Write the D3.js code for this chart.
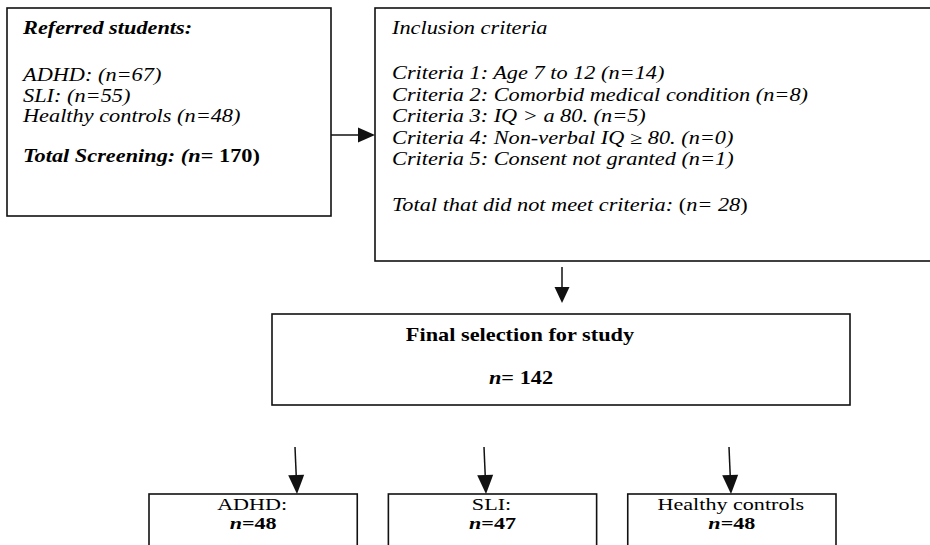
<!DOCTYPE html>
<html>
<head>
<meta charset="utf-8">
<script src="https://cdn.jsdelivr.net/npm/d3@7"></script>
<style>
  html, body { margin: 0; padding: 0; background: #fff; }
  svg { display: block; }
  text { font-family: "Liberation Serif", "Times New Roman", serif; font-size: 18px; fill: #000; }
  text.small { font-size: 16.5px; }
</style>
</head>
<body>
<svg id="chart" width="930" height="545"></svg>
<script>
// ---------------- DATA ----------------
const referredGroups = ["ADHD", "SLI", "Healthy controls"];
const referredCounts = [67, 55, 48];
const referredColon = [true, true, false];
const totalScreening = 170;

const criteriaLabels = [
  "Age 7 to 12",
  "Comorbid medical condition",
  "IQ > a 80.",
  "Non-verbal IQ \u2265 80.",
  "Consent not granted"
];
const criteriaCounts = [14, 8, 5, 0, 1];
const totalExcluded = 28;

const finalTotal = 142;
const finalGroups = ["ADHD:", "SLI:", "Healthy controls"];
const finalCounts = [48, 47, 48];

// ---------------- LAYOUT ----------------
const svg = d3.select("#chart");
const SX = 1.24; // horizontal stretch of the original text
const stroke = "#111";

const lineBox1 = d3.scaleLinear().domain([0, 1]).range([81, 101.5]);
const lineBox2 = d3.scaleLinear().domain([0, 1]).range([79, 100.6]);
const bottomX = d3.scaleBand().domain(finalGroups).range([149, 836]).paddingInner(0.13);
const bottomArrowX = [297, 486, 731];

function box(x, y, w, h) {
  svg.append("rect").attr("x", x).attr("y", y).attr("width", w).attr("height", h)
    .attr("fill", "none").attr("stroke", stroke).attr("stroke-width", 1.6);
}
function arrow(x1, y1, x2, y2, head) {
  const len = Math.hypot(x2 - x1, y2 - y1);
  const ux = (x2 - x1) / len, uy = (y2 - y1) / len;
  const bx = x2 - ux * head.l, by = y2 - uy * head.l;
  svg.append("line").attr("x1", x1).attr("y1", y1).attr("x2", bx).attr("y2", by)
    .attr("stroke", stroke).attr("stroke-width", 1.5);
  const px = -uy * head.w, py = ux * head.w;
  svg.append("path")
    .attr("d", `M${x2},${y2} L${bx + px},${by + py} L${bx - px},${by - py} Z`)
    .attr("fill", stroke);
}
function rich(x, y, parts, anchor, cls, sx) {
  const g = svg.append("g").attr("transform", `translate(${x},${y}) scale(${sx || SX},1)`);
  const t = g.append("text").attr("x", 0).attr("y", 0).attr("text-anchor", anchor || "start")
    .attr("class", cls || null)
    .attr("xml:space", "preserve");
  parts.forEach(([s, st]) => {
    t.append("tspan").text(s)
      .attr("font-style", st.includes("i") ? "italic" : "normal")
      .attr("font-weight", st.includes("b") ? "bold" : "normal");
  });
  return t;
}

// ---------------- BOX 1: referred ----------------
box(7, 8, 324, 208);
rich(23, 34, [["Referred students:", "bi"]]);
referredGroups.forEach((g, i) => {
  rich(23, lineBox1(i), [[`${g}${referredColon[i] ? ":" : ""} (n=${referredCounts[i]})`, "i"]]);
});
rich(23, lineBox1(4) - 1, [["Total Screening: (", "bi"], ["n", "bi"], ["= " + totalScreening + ")", "b"]]);

// ---------------- BOX 2: criteria ----------------
box(375, 8, 570, 253);
rich(392, 34, [["Inclusion criteria", "i"]]);
criteriaLabels.forEach((c, i) => {
  rich(392, lineBox2(i), [[`Criteria ${i + 1}: ${c} (n=${criteriaCounts[i]})`, "i"]]);
});
rich(392, lineBox2(6) + 2, [["Total that did not meet criteria:", "i"], [" (", ""], ["n", "i"], ["= " + totalExcluded, "i"], [")", ""]]);

arrow(331, 135, 375, 135, { l: 17, w: 7.5 });

// ---------------- BOX 3: final selection ----------------
arrow(562, 267, 562, 303, { l: 16, w: 7.5 });
box(272, 314, 578, 91);
rich(520, 341, [["Final selection for study", "b"]], "middle");
rich(521, 384, [["n", "bi"], ["= " + finalTotal, "b"]], "middle");

// ---------------- BOTTOM BOXES ----------------
finalGroups.forEach((g, i) => {
  const x = bottomX(g), w = bottomX.bandwidth();
  const cx = x + w / 2;
  box(x, 494, w, 80);
  rich(cx - 1, 510, [[g, ""]], "middle", "small", 1.34);
  rich(cx, 529, [["n", "bi"], ["=" + finalCounts[i], "b"]], "middle", "small", 1.34);
  const ax = bottomArrowX[i];
  arrow(ax - 2, 447, ax, 494, { l: 19, w: 8 });
});
</script>
</body>
</html>
